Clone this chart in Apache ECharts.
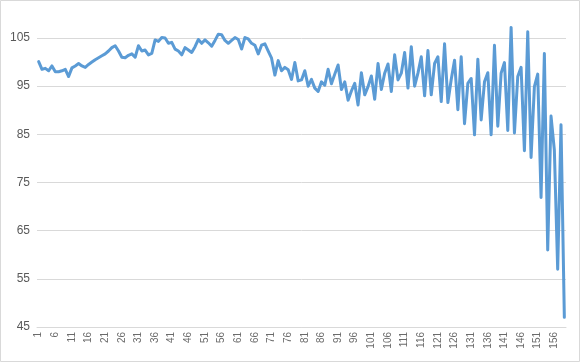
<!DOCTYPE html>
<html>
<head>
<meta charset="utf-8">
<script src="https://cdn.jsdelivr.net/npm/echarts@6/dist/echarts.min.js"></script>
<style>
html,body{margin:0;padding:0;background:#fff;}
#c{width:580px;height:362px;}
</style>
</head>
<body>
<div id="c"></div>
<script>
const values = [
100.1,98.5,98.7,98.2,99.2,98.0,98.0,98.2,98.5,97.0,
98.8,99.2,99.7,99.2,98.9,99.5,100.0,100.5,100.9,101.3,
101.7,102.3,103.0,103.4,102.3,101.0,100.9,101.4,101.7,101.0,
103.4,102.3,102.5,101.5,101.8,104.6,104.3,105.1,105.0,103.9,
104.1,102.7,102.3,101.5,103.0,102.5,102.0,103.2,104.7,103.9,
104.6,104.0,103.3,104.5,105.8,105.7,104.5,103.9,104.5,105.1,
104.7,102.7,105.1,104.8,103.9,103.5,101.7,103.5,103.8,102.3,
100.8,97.3,100.3,98.2,98.9,98.4,96.4,99.9,96.1,96.3,
98.2,95.0,96.4,94.6,93.9,95.9,95.2,98.5,95.5,97.5,
99.4,94.3,95.9,92.1,94.0,95.6,91.1,97.8,93.2,94.9,
97.1,92.3,99.7,94.3,97.7,99.6,93.9,101.5,96.3,97.7,
102.0,94.6,103.2,95.0,97.7,101.1,93.0,102.4,93.2,99.7,
101.1,91.8,103.8,91.6,96.4,100.4,90.1,101.1,87.2,95.6,
96.6,84.9,100.6,88.0,95.9,97.8,84.9,103.5,86.7,97.7,
99.9,85.8,107.2,85.3,97.0,98.9,81.6,106.3,80.2,94.9,
97.5,71.9,101.8,61.0,88.8,81.7,57.0,87.0,47.0
];
const categories = values.map((v, i) => String(i + 1));
const yMin = 45, yMax = 105, yStep = 10;

const chart = echarts.init(document.getElementById('c'), null, {renderer: 'canvas'});
chart.setOption({
  animation: false,
  backgroundColor: '#ffffff',
  graphic: [{
    type: 'rect',
    shape: {x: 0.5, y: 0.5, width: 579, height: 361},
    style: {fill: 'none', stroke: '#d9d9d9', lineWidth: 1},
    silent: true
  }],
  grid: {left: 37, right: 14, top: 38, bottom: 35, containLabel: false},
  xAxis: {
    type: 'category',
    data: categories,
    boundaryGap: true,
    axisLine: {show: true, lineStyle: {color: '#d9d9d9', width: 1}},
    axisTick: {show: false},
    axisLabel: {
      interval: 4,
      rotate: 90,
      color: '#6b6b6b',
      fontSize: 10,
      fontFamily: 'Liberation Sans, Arial, sans-serif',
      margin: 5
    },
    splitLine: {show: false}
  },
  yAxis: {
    type: 'value',
    min: yMin,
    max: yMax,
    interval: yStep,
    axisLine: {show: false},
    axisTick: {show: false},
    axisLabel: {
      color: '#595959',
      fontSize: 12,
      fontFamily: 'Liberation Sans, Arial, sans-serif',
      margin: 7
    },
    splitLine: {show: true, lineStyle: {color: '#d9d9d9', width: 1}}
  },
  series: [{
    type: 'line',
    data: values,
    clip: false,
    showSymbol: false,
    symbol: 'none',
    smooth: false,
    lineStyle: {color: '#5b9bd5', width: 3, join: 'round', cap: 'round'}
  }]
});
</script>
</body>
</html>
